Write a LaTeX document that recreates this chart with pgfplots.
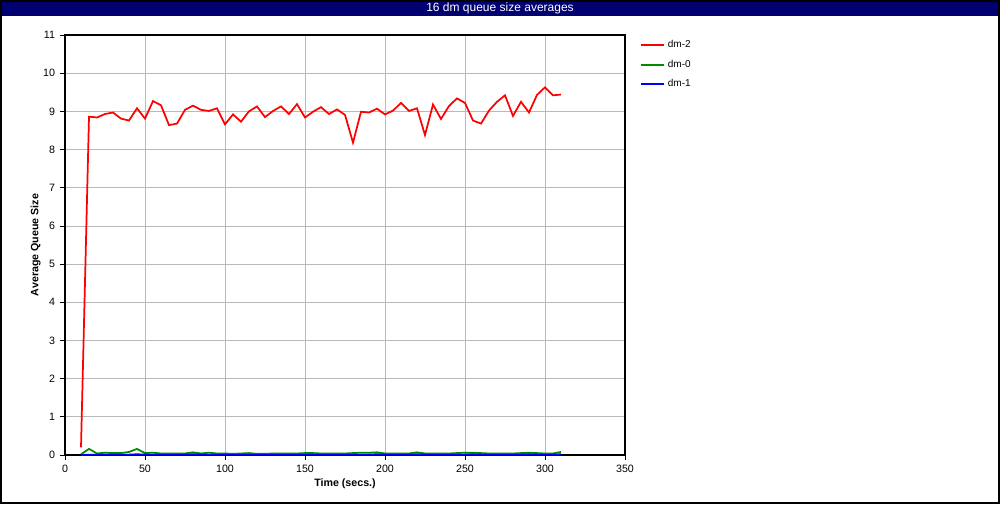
\documentclass[border=0pt]{standalone}
\usepackage{pgfplots}
\pgfplotsset{compat=1.18}
\usepackage{fontspec}
\setmainfont{Liberation Sans}
\setsansfont{Liberation Sans}
\definecolor{titlebar}{RGB}{0,0,112}
\definecolor{dmred}{RGB}{255,0,0}
\definecolor{dmgreen}{RGB}{0,140,0}
\definecolor{dmblue}{RGB}{0,0,255}

\begin{document}
\begin{tikzpicture}[x=0.75pt,y=0.75pt]
% frame and title bar (1 px = 0.75pt, origin bottom left)
\useasboundingbox (0,0) rectangle (1000,504);
\fill[white] (0,0) rectangle (1000,504);
\fill[titlebar] (0,488) rectangle (1000,504);
\draw[black,line width=1.5pt] (1,1) rectangle (999,503);
\node[white,font=\fontsize{9}{10}\selectfont] at (500,496) {16 dm queue size averages};
\begin{axis}[
  at={(48.75pt,36.75pt)}, anchor=south west,
  scale only axis, width=420pt, height=315pt,
  xmin=0, xmax=350, ymin=0, ymax=11,
  xtick={0,50,...,350}, ytick={0,1,...,11},
  grid=major, major grid style={gray!55, line width=0.6pt},
  axis line style={black, line width=0.8pt},
  tick align=outside, tick pos=left,
  major tick length=4pt,
  tick style={black, line width=0.6pt},
  ticklabel style={font=\fontsize{8}{9}\selectfont},
  /pgf/number format/assume math mode=true,
  xlabel={\textbf{Time (secs.)}},
  ylabel={\textbf{Average Queue Size}},
  label style={font=\fontsize{8}{9}\selectfont},
  xlabel style={yshift=2pt},
  ylabel style={yshift=-5pt},
  legend style={at={(1.02,1.0)}, anchor=north west, draw=none, fill=none,
    font=\fontsize{7.5}{9}\selectfont, row sep=3.6pt},
  legend cell align=left,
  legend image post style={line width=1.5pt},
  every axis plot/.append style={line width=1.3pt, no marks},
]
\addplot[dmred] coordinates {
(10,0.2) (15,8.86) (20,8.84) (25,8.93) (30,8.97) (35,8.81) (40,8.76) (45,9.08)
(50,8.81) (55,9.27) (60,9.16) (65,8.64) (70,8.68) (75,9.04) (80,9.15) (85,9.04)
(90,9.01) (95,9.08) (100,8.66) (105,8.92) (110,8.73) (115,9.00) (120,9.13)
(125,8.85) (130,9.01) (135,9.13) (140,8.93) (145,9.19) (150,8.84) (155,8.99)
(160,9.11) (165,8.93) (170,9.05) (175,8.91) (180,8.18) (185,8.99) (190,8.97)
(195,9.07) (200,8.92) (205,9.02) (210,9.22) (215,9.01) (220,9.08) (225,8.38)
(230,9.18) (235,8.80) (240,9.14) (245,9.34) (250,9.22) (255,8.76) (260,8.68)
(265,9.02) (270,9.25) (275,9.42) (280,8.88) (285,9.25) (290,8.97) (295,9.43)
(300,9.63) (305,9.42) (310,9.44)
};
\addlegendentry{dm-2}
\addplot[dmgreen] coordinates {
(10,0.02) (15,0.16) (20,0.04) (25,0.06) (30,0.05) (35,0.05) (40,0.08) (45,0.16)
(50,0.05) (55,0.06) (60,0.04) (65,0.04) (70,0.04) (75,0.04) (80,0.07) (85,0.04)
(90,0.06) (95,0.04) (100,0.04) (105,0.03) (110,0.04) (115,0.05) (120,0.03)
(125,0.03) (130,0.04) (135,0.04) (140,0.04) (145,0.04) (150,0.05) (155,0.05)
(160,0.04) (165,0.04) (170,0.04) (175,0.04) (180,0.05) (185,0.06) (190,0.06)
(195,0.07) (200,0.04) (205,0.04) (210,0.04) (215,0.04) (220,0.07) (225,0.04)
(230,0.04) (235,0.04) (240,0.04) (245,0.05) (250,0.06) (255,0.06) (260,0.05)
(265,0.04) (270,0.04) (275,0.04) (280,0.04) (285,0.05) (290,0.06) (295,0.05)
(300,0.04) (305,0.04) (310,0.08)
};
\addlegendentry{dm-0}
\addplot[dmblue] coordinates {
(10,0.0) (15,0.01) (20,0.01) (25,0.01) (30,0.01) (35,0.01) (40,0.01) (45,0.02)
(50,0.01) (55,0.01) (60,0.01) (65,0.01) (70,0.01) (75,0.01) (80,0.02) (85,0.01)
(90,0.01) (95,0.01) (100,0.01) (105,0.01) (110,0.01) (115,0.01) (120,0.01)
(125,0.01) (130,0.01) (135,0.01) (140,0.01) (145,0.01) (150,0.01) (155,0.01)
(160,0.01) (165,0.01) (170,0.01) (175,0.01) (180,0.01) (185,0.01) (190,0.01)
(195,0.02) (200,0.01) (205,0.01) (210,0.01) (215,0.01) (220,0.02) (225,0.01)
(230,0.01) (235,0.01) (240,0.01) (245,0.01) (250,0.01) (255,0.02) (260,0.01)
(265,0.01) (270,0.01) (275,0.01) (280,0.01) (285,0.01) (290,0.02) (295,0.01)
(300,0.01) (305,0.01) (310,0.02)
};
\addlegendentry{dm-1}
\end{axis}
\end{tikzpicture}
\end{document}
